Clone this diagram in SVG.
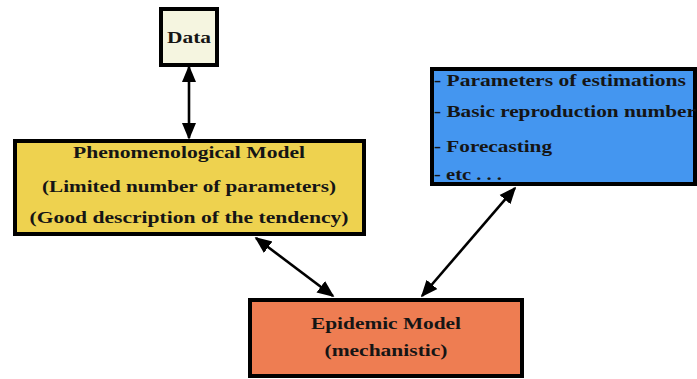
<svg xmlns="http://www.w3.org/2000/svg" width="697" height="379" viewBox="0 0 697 379">
<style>
text{font-family:"Liberation Serif","DejaVu Serif",serif;font-weight:bold;font-size:17.5px;fill:#151515}
.box{stroke:#000;stroke-width:4}
.c{text-anchor:middle}
.ln{stroke:#000;stroke-width:2.6;fill:none}
</style>
<defs>
<marker id="a" viewBox="0 0 10 10" refX="9" refY="5" markerWidth="17" markerHeight="17" markerUnits="userSpaceOnUse" orient="auto-start-reverse"><path d="M0,0.8 L10,5 L0,9.2 z" fill="#000"/></marker>
</defs>
<rect width="697" height="379" fill="#fff"/>
<g id="connectors">
<line class="ln" x1="189" y1="67" x2="189" y2="138" marker-start="url(#a)" marker-end="url(#a)"/>
<line class="ln" x1="256" y1="238" x2="333" y2="296" marker-start="url(#a)" marker-end="url(#a)"/>
<line class="ln" x1="515" y1="188" x2="422" y2="296" marker-start="url(#a)" marker-end="url(#a)"/>
</g>
<g id="data">
<rect class="box" x="161" y="9" width="56" height="56" fill="#f5f5e0"/>
<text class="c" x="189" y="43" textLength="44" lengthAdjust="spacingAndGlyphs">Data</text>
</g>
<g id="phenomenological">
<rect class="box" x="15" y="141" width="349" height="93" fill="#eed24f"/>
<text class="c" x="189" y="158" textLength="232" lengthAdjust="spacingAndGlyphs">Phenomenological Model</text>
<text class="c" x="189" y="192" textLength="294" lengthAdjust="spacingAndGlyphs">(Limited number of parameters)</text>
<text class="c" x="189" y="223" textLength="319" lengthAdjust="spacingAndGlyphs">(Good description of the tendency)</text>
</g>
<g id="outputs">
<rect class="box" x="432" y="69" width="263" height="115" fill="#4496f0"/>
<text x="434" y="86" textLength="252" lengthAdjust="spacingAndGlyphs">- Parameters of estimations</text>
<text x="434" y="117" textLength="262" lengthAdjust="spacingAndGlyphs">- Basic reproduction number</text>
<text x="434" y="152" textLength="118" lengthAdjust="spacingAndGlyphs">- Forecasting</text>
<text x="434" y="180" textLength="68" lengthAdjust="spacingAndGlyphs">- etc . . .</text>
</g>
<g id="epidemic">
<rect class="box" x="250" y="300" width="272" height="76" fill="#ee7d52"/>
<text class="c" x="386" y="329" textLength="150" lengthAdjust="spacingAndGlyphs">Epidemic Model</text>
<text class="c" x="386" y="356" textLength="123" lengthAdjust="spacingAndGlyphs">(mechanistic)</text>
</g>
</svg>
